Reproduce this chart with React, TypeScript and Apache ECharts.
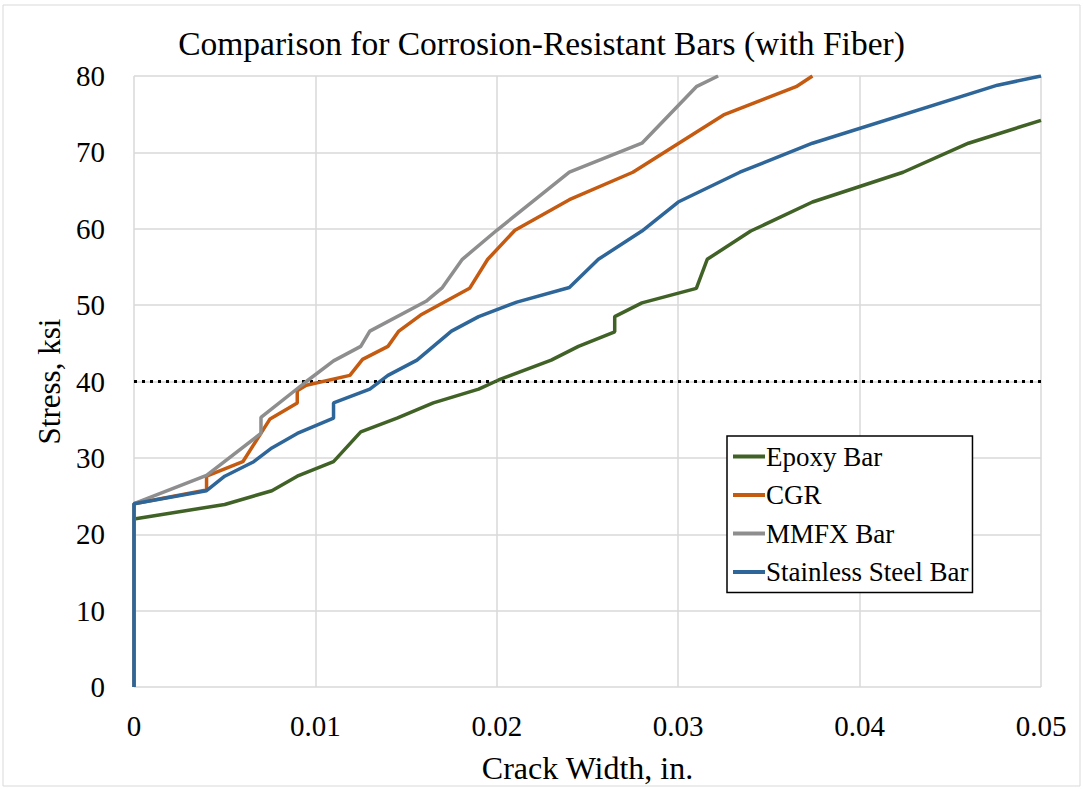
import React, { useEffect, useRef } from "react";
import * as echarts from "echarts";

const seriesNames = ["Epoxy Bar", "CGR", "MMFX Bar", "Stainless Steel Bar"];
const seriesColors = ["#416226", "#C55A11", "#8E8E8E", "#2E6699"];

const epoxyBar: [number, number][] = [
  [0, 0], [0, 22], [0.005, 23.9], [0.0076, 25.7], [0.009, 27.6], [0.011, 29.5],
  [0.0125, 33.4], [0.0145, 35.2], [0.0165, 37.2], [0.019, 39.0], [0.0201, 40.2],
  [0.023, 42.8], [0.0245, 44.6], [0.0265, 46.5], [0.0265, 48.5], [0.028, 50.3],
  [0.031, 52.2], [0.0316, 56.0], [0.034, 59.7], [0.0374, 63.5], [0.0424, 67.4],
  [0.046, 71.2], [0.05, 74.2],
];

const cgr: [number, number][] = [
  [0, 0], [0, 24], [0.004, 25.8], [0.004, 27.6], [0.006, 29.5], [0.0075, 35.1],
  [0.009, 37.2], [0.009, 38.8], [0.0095, 39.5], [0.0119, 40.8], [0.0126, 42.9],
  [0.014, 44.6], [0.0146, 46.6], [0.0158, 48.7], [0.0185, 52.2], [0.0195, 56.0],
  [0.021, 59.8], [0.024, 63.8], [0.0275, 67.4], [0.0325, 74.9], [0.0365, 78.6],
  [0.0374, 80],
];

const mmfxBar: [number, number][] = [
  [0, 0], [0, 24], [0.004, 27.7], [0.007, 33.2], [0.007, 35.3], [0.0095, 40.0],
  [0.011, 42.7], [0.0125, 44.6], [0.013, 46.6], [0.0161, 50.5], [0.017, 52.3],
  [0.0181, 56.0], [0.02, 59.8], [0.024, 67.4], [0.028, 71.2], [0.031, 78.6],
  [0.0322, 80],
];

const stainlessSteelBar: [number, number][] = [
  [0, 0], [0, 24], [0.004, 25.7], [0.005, 27.6], [0.0066, 29.5], [0.0076, 31.3],
  [0.009, 33.2], [0.011, 35.2], [0.011, 37.2], [0.013, 39.0], [0.014, 40.8],
  [0.0156, 42.8], [0.0175, 46.6], [0.019, 48.5], [0.0211, 50.4], [0.024, 52.3],
  [0.0256, 56.0], [0.028, 59.7], [0.030, 63.5], [0.0334, 67.4], [0.0374, 71.2],
  [0.0476, 78.8], [0.05, 80],
];

const limitLine: [number, number][] = [[0, 40], [0.05, 40]];

const xTicks = [0, 0.01, 0.02, 0.03, 0.04, 0.05];
const yTicks = [0, 10, 20, 30, 40, 50, 60, 70, 80];

const FONT = "'Liberation Serif', 'DejaVu Serif', serif";

export default function App() {
  const ref = useRef<HTMLDivElement>(null);
  useEffect(() => {
    if (!ref.current) return;
    const chart = echarts.init(ref.current, null, { renderer: "svg" });
    const allData = [epoxyBar, cgr, mmfxBar, stainlessSteelBar];
    chart.setOption({
      animation: false,
      backgroundColor: "#ffffff",
      title: {
        text: "Comparison for Corrosion-Resistant Bars (with Fiber)",
        left: "center",
        top: 21,
        textStyle: { fontFamily: FONT, fontSize: 33.5, fontWeight: "normal", color: "#000" },
      },
      graphic: [
        {
          type: "rect",
          shape: { x: 3, y: 5, width: 1077, height: 781 },
          style: { fill: "none", stroke: "#d9d9d9", lineWidth: 1 },
          silent: true,
        },
      ],
      legend: {
        data: seriesNames,
        orient: "vertical",
        left: 727,
        top: 436,
        padding: [7, 4, 7, 6],
        itemGap: 11.5,
        itemWidth: 32,
        itemHeight: 4,
        icon: "rect",
        borderColor: "#000",
        borderWidth: 1.5,
        backgroundColor: "#fff",
        textStyle: { fontFamily: FONT, fontSize: 27, color: "#000", padding: [0, 0, 0, -4] },
      },
      grid: { left: 134, right: 42, top: 76, bottom: 100, containLabel: false },
      xAxis: {
        type: "value",
        min: 0,
        max: 0.05,
        interval: 0.01,
        name: "Crack Width, in.",
        nameLocation: "middle",
        nameGap: 65,
        nameTextStyle: { fontFamily: FONT, fontSize: 32, color: "#000" },
        axisLine: { show: false },
        axisTick: { show: false },
        axisLabel: {
          margin: 24,
          fontFamily: FONT,
          fontSize: 29,
          color: "#000",
          formatter: (v: number) => {
            const t = xTicks.find((k) => Math.abs(k - v) < 1e-9);
            return t === 0 ? "0" : (t ?? v).toFixed(2);
          },
        },
        splitLine: { show: true, lineStyle: { color: "#d9d9d9", width: 1.5 } },
      },
      yAxis: {
        type: "value",
        min: 0,
        max: 80,
        interval: 10,
        name: "Stress, ksi",
        nameLocation: "middle",
        nameGap: 69,
        nameTextStyle: { fontFamily: FONT, fontSize: 31, color: "#000" },
        axisLine: { show: false },
        axisTick: { show: false },
        axisLabel: {
          margin: 29,
          fontFamily: FONT,
          fontSize: 29,
          color: "#000",
          formatter: (v: number) => String(yTicks.find((k) => Math.abs(k - v) < 1e-9) ?? v),
        },
        splitLine: { show: true, lineStyle: { color: "#d9d9d9", width: 1.5 } },
      },
      series: [
        {
          name: "limit",
          type: "line",
          data: limitLine,
          showSymbol: false,
          symbol: "none",
          silent: true,
          lineStyle: { color: "#000", width: 3, type: [3, 5] },
          z: 1,
        },
        ...seriesNames.map((name, i) => ({
          name,
          type: "line",
          data: allData[i],
          showSymbol: false,
          symbol: "none",
          color: seriesColors[i],
          lineStyle: { color: seriesColors[i], width: 3.5 },
          z: 2 + i,
        })),
      ],
    });
    return () => chart.dispose();
  }, []);
  return (
    <div
      ref={ref}
      style={{ position: "fixed", left: 0, top: 0, width: 1083, height: 789 }}
    />
  );
}
